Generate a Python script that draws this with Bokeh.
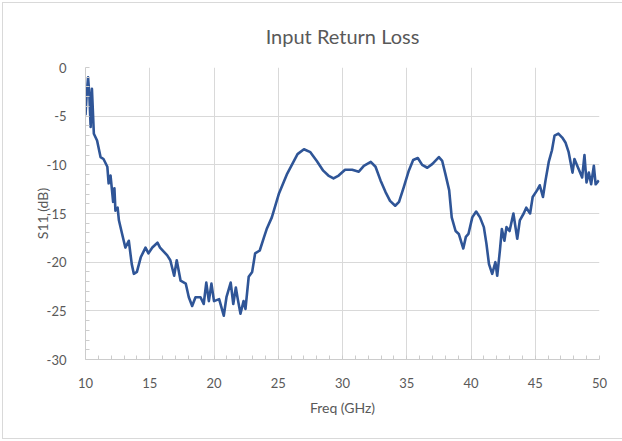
from bokeh.plotting import figure
from bokeh.models import SingleIntervalTicker, Range1d, CustomJSTickFormatter
from bokeh.embed import file_html
from bokeh.resources import INLINE

freq = [10.0, 10.08, 10.2, 10.3, 10.4, 10.5, 10.65, 10.9, 11.17, 11.4, 11.7, 11.8, 11.95, 12.15, 12.25,
        12.33, 12.5, 12.6, 12.85, 13.1, 13.37, 13.6, 13.76, 14.0, 14.3, 14.67, 14.9, 15.2, 15.6, 15.8,
        16.36, 16.6, 16.9, 17.1, 17.4, 17.8, 18.04, 18.3, 18.56, 18.95, 19.2, 19.4, 19.6, 19.8, 20.0,
        20.4, 20.76, 20.97, 21.3, 21.5, 21.7, 21.85, 22.06, 22.3, 22.45, 22.7, 22.97, 23.2, 23.56, 23.9,
        24.1, 24.5, 25.04, 25.7, 26.5, 27.0, 27.5, 28.0, 28.5, 28.9, 29.3, 29.7, 30.2, 30.75, 31.27,
        31.66, 32.2, 32.57, 32.96, 33.35, 33.7, 34.1, 34.4, 34.77, 35.16, 35.5, 35.86, 36.2, 36.6, 37.0,
        37.5, 37.76, 38.0, 38.3, 38.5, 38.8, 39.05, 39.4, 39.6, 39.8, 40.1, 40.4, 40.7, 41.0, 41.2,
        41.4, 41.65, 41.9, 42.04, 42.25, 42.4, 42.6, 42.76, 43.0, 43.3, 43.6, 43.8, 44.1, 44.3, 44.6,
        44.8, 45.15, 45.35, 45.6, 45.8, 46.05, 46.3, 46.5, 46.8, 47.1, 47.35, 47.6, 47.9, 48.05, 48.3,
        48.65, 48.83, 48.99, 49.17, 49.35, 49.56, 49.7, 49.95]
s11 = [-4.9, -3.0, -1.0, -2.8, -6.1, -2.2, -6.8, -7.5, -9.2, -9.4, -10.2, -11.9, -11.1, -13.8, -12.4,
       -14.7, -14.4, -15.7, -17.1, -18.5, -17.8, -20.2, -21.2, -21.0, -19.5, -18.5, -19.1, -18.5, -18.0, -18.5,
       -19.3, -19.8, -21.4, -19.8, -21.9, -22.2, -23.6, -24.5, -23.6, -23.6, -24.3, -22.1, -24.0, -22.2, -24.0,
       -23.8, -25.5, -23.6, -22.1, -24.3, -22.6, -23.8, -25.3, -24.0, -24.8, -21.5, -21.0, -19.1, -18.8, -17.4,
       -16.6, -15.4, -13.0, -10.9, -8.9, -8.4, -8.7, -9.6, -10.6, -11.1, -11.4, -11.1, -10.5, -10.5, -10.7,
       -10.1, -9.7, -10.2, -11.6, -12.8, -13.7, -14.2, -13.8, -12.3, -10.6, -9.5, -9.3, -10.0, -10.3, -9.9,
       -9.2, -9.6, -10.9, -12.6, -15.4, -16.8, -17.1, -18.6, -17.4, -17.1, -15.4, -14.8, -15.4, -16.4, -18.1,
       -20.2, -21.2, -20.0, -21.4, -18.8, -16.6, -17.8, -16.4, -16.8, -15.0, -17.6, -15.7, -15.0, -14.4, -15.0,
       -13.3, -12.6, -12.1, -13.3, -11.6, -9.7, -8.5, -7.0, -6.8, -7.2, -7.7, -8.7, -10.8, -9.4, -10.2,
       -11.3, -9.0, -11.8, -10.8, -12.0, -10.1, -12.0, -11.6]

title_text = "Input Return Loss"
x_label = "Freq (GHz)"
y_label = "S11 (dB)"

FONT = "Lato"
GRAY = "#595959"

p = figure(width=620, height=435, frame_width=514, frame_height=292,
           min_border_left=82, min_border_right=24, min_border_top=64, min_border_bottom=79,
           x_range=Range1d(10, 50), y_range=Range1d(-30, 0),
           output_backend="svg", toolbar_location=None)
p.styles = {"border": "1px solid #d9d9d9", "margin-left": "2px", "margin-top": "2px"}
p.outline_line_color = None
p.background_fill_color = "white"
p.border_fill_color = "white"

for ax in (p.xaxis[0], p.yaxis[0]):
    ax.ticker = SingleIntervalTicker(interval=5, num_minor_ticks=5)
    ax.formatter = CustomJSTickFormatter(code="return tick.toString();")
    ax.axis_line_color = "#cccccc"
    ax.major_tick_line_color = None
    ax.minor_tick_line_color = "#cccccc"
    ax.minor_tick_in = 4
    ax.minor_tick_out = 0
    ax.major_label_text_color = GRAY
    ax.major_label_text_font = FONT
    ax.major_label_text_font_size = "13px"
    ax.axis_label_text_color = GRAY
    ax.axis_label_text_font = FONT
    ax.axis_label_text_font_size = "14px"
    ax.axis_label_text_font_style = "normal"

p.xaxis.axis_label = x_label
p.yaxis.axis_label = y_label
p.xaxis.major_label_standoff = 12
p.xaxis.axis_label_standoff = 8
p.yaxis.major_label_standoff = 13
p.yaxis.axis_label_standoff = -7

p.xgrid.ticker = SingleIntervalTicker(interval=5)
p.ygrid.ticker = SingleIntervalTicker(interval=5)
p.grid.grid_line_color = "#d9d9d9"
p.grid.grid_line_width = 1

p.line(freq, s11, line_color="#2f5597", line_width=2.6, line_join="round")

p.title.text = title_text
p.title.align = "center"
p.title.vertical_align = "top"
p.title.text_font = FONT
p.title.text_font_size = "20px"
p.title.text_font_style = "normal"
p.title.text_color = GRAY
p.title.standoff = 36

open("out.html", "w").write(file_html(p, INLINE))
